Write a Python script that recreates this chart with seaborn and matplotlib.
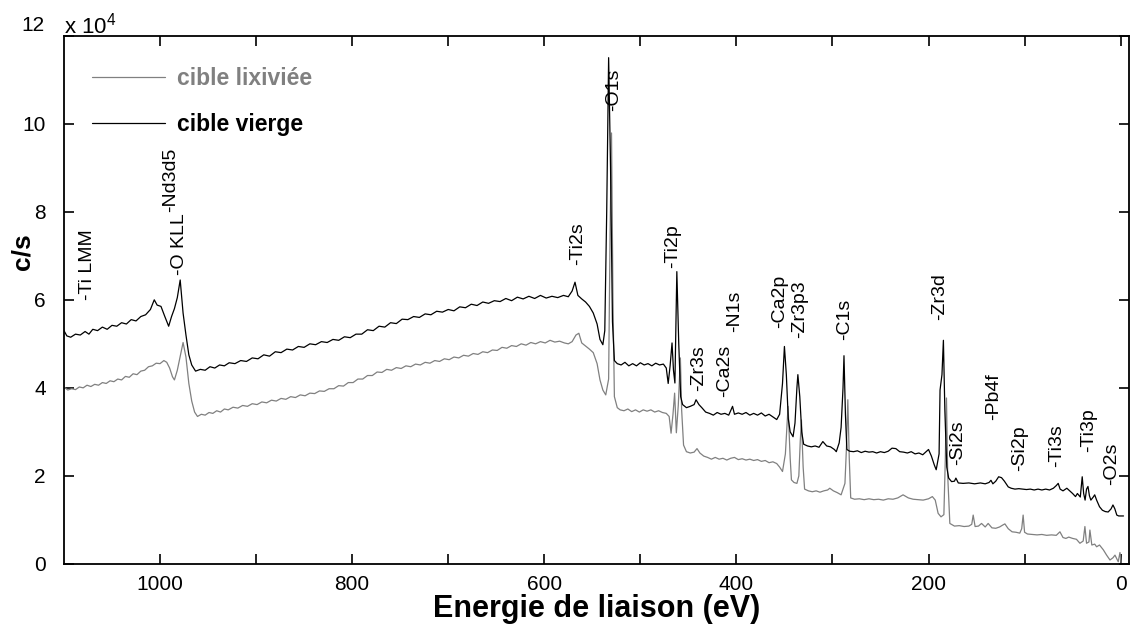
import matplotlib
matplotlib.use("Agg")
import matplotlib.pyplot as plt
import seaborn as sns
import pandas as pd

# ---------------- data (counts in units of 1e4 c/s) -------------
energy_vierge = [1100, 1097, 1093, 1088, 1083, 1078, 1074, 1070, 1065, 1060, 1055, 1050, 1045, 1040,
                 1035, 1030, 1025, 1020, 1015, 1010, 1006, 1003, 999, 995, 991, 988, 985, 982, 979,
                 976, 973, 970, 967, 963, 958, 953, 948, 943, 938, 933, 928, 922, 916, 910, 904, 898,
                 892, 886, 880, 874, 868, 862, 856, 850, 844, 838, 832, 826, 820, 814, 808, 802, 796,
                 790, 784, 778, 772, 766, 760, 754, 748, 742, 736, 730, 724, 718, 712, 706, 700, 694,
                 688, 682, 676, 670, 664, 658, 652, 646, 640, 634, 628, 622, 616, 610, 604, 598, 592,
                 586, 580, 575, 571, 568, 565, 561, 557, 553, 549, 545, 542, 539, 537, 535, 533, 531,
                 529, 527, 524, 520, 516, 512, 508, 504, 500, 496, 492, 488, 484, 480, 476, 473, 471,
                 469, 467, 465.5, 464, 462, 460, 458, 456, 452, 448, 444, 442, 439, 436, 432, 428, 424,
                 420, 416, 412, 408, 404, 402, 398, 394, 390, 386, 382, 378, 374, 370, 366, 362, 358,
                 355, 352, 350, 348, 346, 344, 341, 339, 337, 336, 334, 332, 330, 326, 322, 318, 314,
                 310, 306, 302, 298, 296, 293, 291, 289, 288, 286.5, 285, 282, 278, 274, 270, 266, 262,
                 258, 254, 250, 246, 242, 238, 234, 230, 226, 222, 218, 214, 210, 206, 202, 200, 197,
                 194, 192, 189, 188, 186, 184.5, 183, 181, 179, 176, 173, 171.5, 169, 164, 158, 152,
                 146, 141, 137, 135, 133, 130, 127, 124, 121, 117, 114, 110, 106, 102, 98, 94, 90, 86,
                 82, 78, 74, 70, 67, 65, 63, 60, 56, 53, 50, 47, 45, 42, 40, 38.5, 37, 35.5, 34, 32.5,
                 31, 28.5, 27, 25, 22, 19, 16, 13, 10, 8, 6, 4, 2, -1, -3]
counts_vierge = [5.30, 5.18, 5.15, 5.22, 5.20, 5.28, 5.22, 5.33, 5.30, 5.38, 5.33, 5.42, 5.40, 5.48,
                 5.45, 5.55, 5.52, 5.62, 5.66, 5.78, 6.00, 5.88, 5.85, 5.62, 5.40, 5.62, 5.80, 6.05, 6.45,
                 5.70, 5.20, 4.75, 4.52, 4.38, 4.42, 4.40, 4.48, 4.45, 4.52, 4.50, 4.57, 4.55, 4.62, 4.60,
                 4.68, 4.66, 4.75, 4.72, 4.82, 4.80, 4.88, 4.86, 4.94, 4.92, 5.00, 4.98, 5.05, 5.03, 5.10,
                 5.08, 5.16, 5.14, 5.22, 5.22, 5.32, 5.30, 5.40, 5.38, 5.48, 5.46, 5.56, 5.55, 5.62, 5.60,
                 5.68, 5.66, 5.74, 5.72, 5.78, 5.75, 5.84, 5.82, 5.90, 5.87, 5.95, 5.92, 5.98, 5.96, 6.03,
                 5.98, 6.06, 6.02, 6.08, 6.03, 6.10, 6.04, 6.08, 6.05, 6.10, 6.07, 6.20, 6.40, 6.10, 6.02,
                 5.95, 5.85, 5.70, 5.45, 5.10, 4.98, 5.30, 8.00, 11.50, 9.00, 5.50, 4.62, 4.55, 4.52, 4.58,
                 4.50, 4.55, 4.50, 4.57, 4.52, 4.55, 4.50, 4.56, 4.52, 4.54, 4.45, 4.10, 4.50, 5.02, 4.40,
                 4.11, 6.64, 5.00, 3.80, 3.62, 3.55, 3.58, 3.62, 3.73, 3.62, 3.55, 3.45, 3.42, 3.38, 3.44,
                 3.40, 3.42, 3.38, 3.58, 3.40, 3.43, 3.40, 3.44, 3.38, 3.42, 3.38, 3.43, 3.36, 3.40, 3.34,
                 3.28, 3.40, 4.10, 4.94, 4.30, 3.30, 3.00, 2.89, 3.20, 4.00, 4.30, 3.80, 3.00, 2.72, 2.68,
                 2.66, 2.68, 2.65, 2.78, 2.68, 2.66, 2.60, 2.55, 2.75, 3.10, 4.00, 4.73, 3.40, 2.60, 2.56,
                 2.55, 2.57, 2.53, 2.56, 2.54, 2.55, 2.52, 2.55, 2.53, 2.56, 2.63, 2.62, 2.55, 2.54, 2.52,
                 2.55, 2.50, 2.52, 2.48, 2.56, 2.60, 2.45, 2.25, 2.14, 2.50, 3.95, 4.30, 5.08, 3.50, 2.20,
                 1.95, 1.87, 1.88, 1.95, 1.84, 1.83, 1.84, 1.82, 1.84, 1.82, 1.85, 1.90, 1.82, 1.88, 1.98,
                 1.96, 1.88, 1.75, 1.72, 1.70, 1.71, 1.70, 1.69, 1.70, 1.68, 1.70, 1.68, 1.70, 1.68, 1.72,
                 1.78, 1.83, 1.70, 1.66, 1.72, 1.66, 1.60, 1.53, 1.60, 1.52, 1.98, 1.60, 1.45, 1.70, 1.76,
                 1.55, 1.45, 1.52, 1.57, 1.45, 1.30, 1.22, 1.19, 1.18, 1.25, 1.34, 1.25, 1.11, 1.09, 1.09,
                 1.09]

energy_lix = [1100, 1096, 1092, 1088, 1084, 1080, 1076, 1072, 1068, 1064, 1060, 1056, 1052, 1048, 1044,
              1040, 1036, 1032, 1028, 1024, 1020, 1016, 1012, 1008, 1004, 1000, 996, 993, 990, 987, 985,
              982, 979, 976, 973, 970, 967, 964, 961, 957, 953, 949, 945, 941, 937, 933, 929, 924, 919,
              914, 909, 904, 899, 894, 889, 884, 879, 874, 869, 864, 859, 854, 849, 844, 839, 834, 829,
              824, 819, 814, 809, 804, 799, 794, 789, 784, 779, 774, 769, 764, 759, 754, 749, 744, 739,
              734, 729, 724, 719, 714, 709, 704, 699, 694, 689, 684, 679, 674, 669, 664, 659, 654, 649,
              644, 639, 634, 629, 624, 619, 614, 609, 604, 599, 594, 589, 584, 579, 575, 571, 567, 564,
              561, 557, 553, 549, 545, 542, 539, 536, 533, 531.5, 530, 528.5, 527, 524, 521, 517, 513,
              509, 505, 501, 497, 493, 489, 485, 481, 477, 473, 470, 468, 466, 464.3, 462.5, 460.5,
              458.3, 457, 455, 452, 448, 444, 441, 438, 434, 430, 426, 422, 418, 414, 410, 406, 402, 398,
              394, 390, 386, 382, 378, 374, 370, 366, 362, 358, 355, 352, 349, 346.2, 344, 342.7, 340,
              337, 335, 333.5, 332.3, 330.5, 329, 325, 321, 317, 313, 309, 305, 302.8, 299, 295, 291,
              289, 287, 285.5, 284, 282.5, 281, 277, 272, 267, 262, 257, 252, 247, 242, 237, 232, 226.5,
              221, 216, 211, 205.6, 200, 196, 193, 190, 187, 184, 182.5, 181.3, 180, 177.8, 173, 168,
              163, 158, 155, 153.5, 151.5, 148, 144.8, 141, 137.9, 134, 130, 126, 123, 120.5, 117, 113,
              109, 105, 103, 101.5, 100, 97, 92, 87, 82, 77, 72, 67, 63.2, 60, 57, 54, 50, 46, 42.4, 39,
              37.2, 35.5, 33, 32, 30, 27, 25, 22, 18, 14.6, 11.1, 8, 5.9, 2.5, 0.7, -0.5]
counts_lix = [4.02, 3.95, 3.98, 3.96, 4.02, 4.00, 4.06, 4.03, 4.08, 4.06, 4.12, 4.10, 4.16, 4.14, 4.20,
              4.18, 4.26, 4.24, 4.32, 4.30, 4.38, 4.40, 4.48, 4.50, 4.56, 4.55, 4.62, 4.58, 4.45, 4.25,
              4.18, 4.40, 4.72, 5.03, 4.70, 4.10, 3.70, 3.45, 3.35, 3.40, 3.38, 3.44, 3.42, 3.48, 3.45,
              3.52, 3.50, 3.56, 3.54, 3.60, 3.58, 3.64, 3.62, 3.68, 3.66, 3.72, 3.70, 3.76, 3.74, 3.80,
              3.78, 3.84, 3.82, 3.88, 3.87, 3.93, 3.92, 3.98, 3.98, 4.05, 4.04, 4.12, 4.12, 4.20, 4.20,
              4.28, 4.28, 4.36, 4.35, 4.42, 4.40, 4.46, 4.44, 4.50, 4.48, 4.54, 4.52, 4.58, 4.56, 4.62,
              4.60, 4.66, 4.64, 4.70, 4.68, 4.74, 4.72, 4.78, 4.76, 4.82, 4.80, 4.86, 4.85, 4.92, 4.90,
              4.96, 4.94, 5.00, 4.97, 5.03, 5.00, 5.05, 5.02, 5.08, 5.04, 5.06, 5.02, 5.00, 5.05, 5.20,
              5.24, 5.02, 4.95, 4.88, 4.80, 4.55, 4.18, 3.95, 3.84, 4.20, 7.50, 9.79, 6.00, 3.80, 3.55,
              3.50, 3.48, 3.52, 3.46, 3.50, 3.45, 3.50, 3.47, 3.50, 3.45, 3.48, 3.44, 3.42, 3.35, 2.97,
              3.40, 3.88, 2.98, 3.60, 4.68, 3.50, 2.70, 2.55, 2.52, 2.54, 2.62, 2.52, 2.45, 2.42, 2.38,
              2.42, 2.38, 2.40, 2.36, 2.40, 2.42, 2.37, 2.39, 2.36, 2.38, 2.35, 2.37, 2.33, 2.35, 2.30,
              2.32, 2.28, 2.20, 2.10, 2.50, 3.58, 2.40, 1.91, 1.85, 1.83, 2.00, 2.80, 3.27, 2.20, 1.70,
              1.66, 1.64, 1.66, 1.63, 1.66, 1.68, 1.72, 1.66, 1.62, 1.57, 1.70, 1.83, 2.60, 3.73, 2.40,
              1.50, 1.47, 1.48, 1.46, 1.48, 1.46, 1.47, 1.45, 1.48, 1.47, 1.50, 1.57, 1.50, 1.47, 1.46,
              1.45, 1.48, 1.53, 1.45, 1.15, 1.07, 1.12, 2.40, 3.77, 2.00, 0.92, 0.86, 0.87, 0.85, 0.86,
              0.90, 1.11, 0.85, 0.86, 0.92, 0.84, 0.92, 0.82, 0.81, 0.84, 0.88, 0.91, 0.80, 0.73, 0.72,
              0.70, 0.80, 1.11, 0.72, 0.68, 0.67, 0.66, 0.67, 0.65, 0.66, 0.65, 0.73, 0.60, 0.58, 0.61,
              0.58, 0.56, 0.47, 0.52, 0.85, 0.47, 0.50, 0.77, 0.43, 0.45, 0.39, 0.43, 0.32, 0.20, 0.09,
              0.14, 0.20, 0.05, 0.26, 0.03]

series_names = ["cible lixiviée", "cible vierge"]
series_colors = ["#808080", "#000000"]

peak_names = ["-Ti LMM", "-O KLL", "-Nd3d5", "-Ti2s", "-O1s", "-Ti2p", "-Zr3s", "-Ca2s", "-N1s",
              "-Ca2p", "-Zr3p3", "-C1s", "-Zr3d", "-Si2s", "-Pb4f", "-Si2p", "-Ti3s", "-Ti3p", "-O2s"]
peak_energy = [1075, 980, 989, 565, 527.5, 466, 439.3, 412.2, 401.8, 354.9, 334, 287.2, 188.2,
               169.2, 132.7, 105.6, 66.7, 33.7, 9.4]
peak_label_y = [6.0, 6.57, 8.0, 6.8, 10.28, 6.72, 3.92, 3.80, 5.28, 5.36, 5.13, 5.09, 5.55,
                2.25, 3.27, 2.10, 2.21, 2.55, 1.80]

x_ticks = [1000, 900, 800, 700, 600, 500, 400, 300, 200, 100, 0]
x_tick_labels = ["1000", "", "800", "", "600", "", "400", "", "200", "", "0"]
y_ticks = [0, 2, 4, 6, 8, 10, 12]
y_tick_labels = ["0", "2", "4", "6", "8", "10", ""]

# ---------------- style ----------------
sns.set_style("ticks")
plt.rcParams["font.family"] = ["Liberation Sans", "DejaVu Sans"]
plt.rcParams["mathtext.default"] = "regular"
for key in ["text.color", "axes.labelcolor", "xtick.color", "ytick.color",
            "xtick.labelcolor", "ytick.labelcolor", "axes.edgecolor"]:
    plt.rcParams[key] = "black"

fig = plt.figure(figsize=(11.32, 6.28), dpi=100)
ax = fig.add_axes([0.0565, 0.102, 0.9411, 0.8412])

df_lix = pd.DataFrame({"energy": energy_lix, "counts": counts_lix})
df_vie = pd.DataFrame({"energy": energy_vierge, "counts": counts_vierge})
sns.lineplot(data=df_lix, x="energy", y="counts", color=series_colors[0], lw=0.9,
             estimator=None, sort=False, ax=ax, label=series_names[0])
sns.lineplot(data=df_vie, x="energy", y="counts", color=series_colors[1], lw=0.9,
             estimator=None, sort=False, ax=ax, label=series_names[1])

ax.set_xlim(1100, -9)
ax.set_ylim(0, 12)
ax.set_xticks(x_ticks)
ax.set_xticklabels(x_tick_labels)
ax.set_yticks(y_ticks)
ax.set_yticklabels(y_tick_labels)
ax.tick_params(axis="both", direction="in", length=7.5, width=1.2, labelsize=15,
               top=True, right=True, color="black", labelcolor="black")
ax.tick_params(axis="x", pad=8)
ax.tick_params(axis="y", pad=13)
for sp in ax.spines.values():
    sp.set_visible(True)
    sp.set_linewidth(1.3)
    sp.set_color("black")

ax.annotate("12", xy=(0, 1), xycoords="axes fraction", xytext=(-19, 10.5),
            textcoords="offset pixels", ha="right", va="center", fontsize=15)
ax.text(0.0, 1.005, "x 10$^{4}$", transform=ax.transAxes, ha="left", va="baseline",
        fontsize=16)

ax.set_xlabel("Energie de liaison (eV)", fontsize=22, fontweight="bold", labelpad=0)
ax.set_ylabel("c/s", fontsize=19, fontweight="bold")
ax.yaxis.set_label_coords(-0.028, 0.592)

for name, e, yv in zip(peak_names, peak_energy, peak_label_y):
    ax.text(e, yv, name, rotation=90, ha="center", va="bottom", fontsize=14)

handles, labels = ax.get_legend_handles_labels()
leg = ax.legend(handles, labels, loc="upper left", bbox_to_anchor=(0.0263, 0.940),
                frameon=False, borderaxespad=0, borderpad=0, handlelength=3.2,
                handletextpad=0.5, labelspacing=0.98,
                prop={"weight": "bold", "size": 16.5}, labelcolor=series_colors)

fig.savefig("out.png", dpi=100)
